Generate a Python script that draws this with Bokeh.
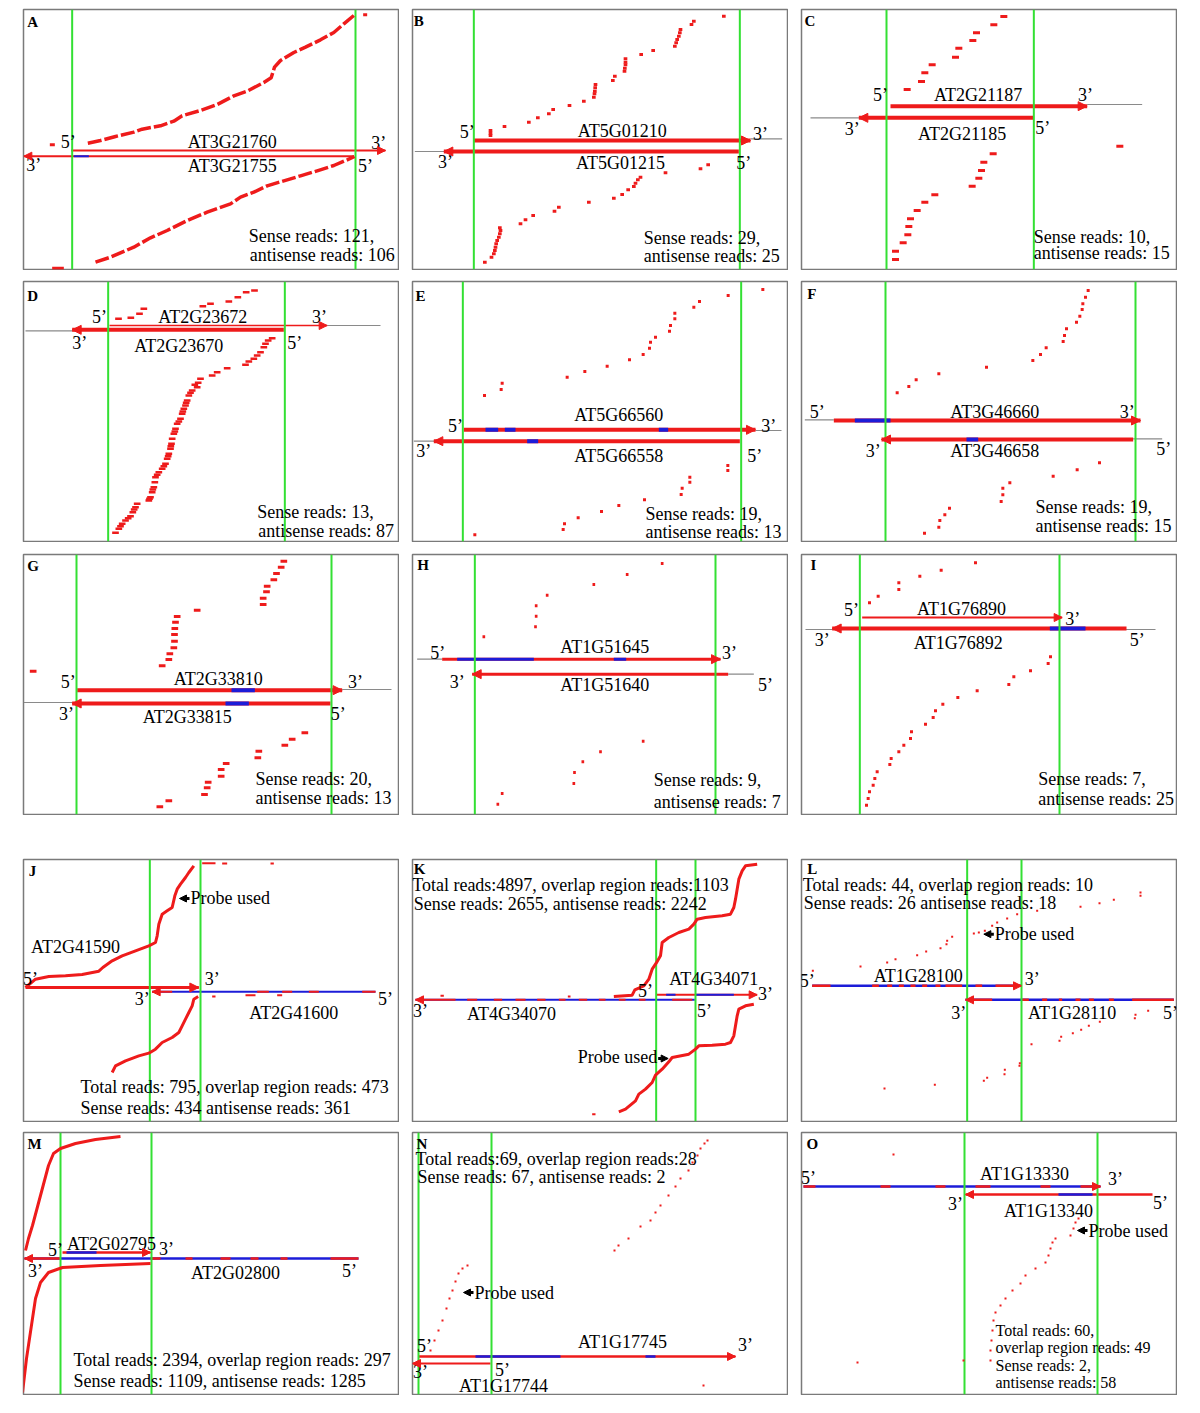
from bokeh.plotting import figure
from bokeh.models import Range1d, ColumnDataSource, Arrow, NormalHead, Spacer
from bokeh.layouts import row, column
from bokeh.embed import file_html
from bokeh.resources import INLINE
from bokeh.core.properties import value

RED = "#ee1b1b"
BLUE = "#1c1cd8"
GREEN = "#33e033"
GRAY = "#8a8a8a"
FONT = "Liberation Serif"

COL_LEFT = [22, 411, 800]
ROW_TOP = [8, 280, 553, 858, 1131]
ROW_H = [262, 262, 262, 264, 264]
PW = 377

# ---------------- Panel A ----------------
A_green = [215, 1065]
A_genes = [(212, 1155, 450, 2), (1060, 70, 467, 2)]
A_gray = []
A_over = [(220, 265, 467, BLUE)]
A_labels = [("5’", 203, 425), ("AT3G21760", 695, 425), ("3’", 1135, 428),
            ("3’", 100, 492), ("AT3G21755", 695, 495), ("5’", 1095, 497)]
A_sense_curve = [(262, 428), (300, 420), (345, 408), (400, 395), (425, 386), (480, 376), (520, 362),
                 (545, 346), (600, 330), (650, 312), (700, 286), (740, 272), (790, 246), (812, 232),
                 (822, 200), (840, 180), (880, 156), (915, 140), (960, 118), (1000, 96), (1030, 70),
                 (1060, 45)]
A_anti_curve = [(285, 785), (330, 770), (400, 740), (450, 712), (500, 690), (560, 660), (620, 635),
                (690, 610), (720, 590), (760, 575), (800, 556), (850, 541), (900, 526), (950, 511),
                (1000, 495), (1040, 478), (1062, 468)]
A_reads = [(148, 163, 433), (1088, 1100, 43), (155, 190, 803)]
A_info = [("Sense reads: 121,", 745, 707), ("antisense reads: 106", 748, 762)]

# ---------------- Panel B ----------------
B_green = [205, 1003]
B_genes = [(205, 1035, 420, 4), (1000, 115, 453, 4)]
B_gray = [(1035, 1130, 415), (28, 120, 453)]
B_over = []
B_labels = [("5’", 185, 395), ("AT5G01210", 650, 392), ("3’", 1065, 400),
            ("3’", 120, 485), ("AT5G01215", 645, 488), ("5’", 1015, 488)]
B_sense = [(255, 390), (255, 398), (255, 405), (297, 378), (370, 365), (397, 352), (430, 340),
           (443, 327), (492, 315), (535, 302), (565, 290), (567, 280), (568, 272), (569, 262),
           (570, 252), (622, 240), (628, 227), (657, 212), (658, 203), (660, 193), (660, 185),
           (660, 175), (707, 162), (743, 150), (808, 137), (812, 127), (815, 117), (820, 107),
           (823, 97), (825, 87), (858, 72), (865, 62), (955, 47)]
B_anti = [(238, 785), (258, 770), (265, 760), (268, 750), (270, 740), (272, 730), (275, 720),
          (280, 710), (283, 700), (285, 690), (283, 682), (345, 670), (360, 658), (383, 645),
          (447, 632), (460, 620), (550, 605), (625, 593), (650, 582), (668, 568), (685, 558),
          (690, 548), (697, 538), (705, 530), (780, 517), (885, 505), (908, 493)]
B_info = [("Sense reads: 29,", 715, 713), ("antisense reads: 25", 715, 765)]

# ---------------- Panel C ----------------
C_green = [273, 715]
C_genes = [(285, 875, 317, 4), (715, 190, 352, 4)]
C_gray = [(875, 1040, 312), (45, 190, 352)]
C_over = []
C_labels = [("5’", 255, 283), ("AT2G21187", 548, 283), ("3’", 870, 283),
            ("3’", 170, 385), ("AT2G21185", 500, 400), ("5’", 742, 382)]
C_sense = [(335, 267), (378, 243), (388, 217), (410, 193), (480, 170), (490, 143), (532, 120),
           (543, 97), (595, 73), (625, 48)]
C_anti = [(300, 777), (300, 752), (323, 727), (337, 703), (340, 678), (345, 655), (365, 630),
          (388, 605), (418, 583), (530, 557), (550, 533), (558, 510), (565, 485), (593, 460),
          (973, 437)]
C_info = [("Sense reads: 10,", 715, 708), ("antisense reads: 15", 715, 758)]

# ---------------- Panel D ----------------
D_green = [278, 808]
D_genes = [(282, 935, 150, 1.5), (805, 170, 163, 4)]
D_gray = [(935, 1095, 150), (30, 175, 166)]
D_over = []
D_labels = [("5’", 252, 125), ("AT2G23672", 562, 125), ("3’", 912, 125),
            ("3’", 193, 203), ("AT2G23670", 490, 210), ("5’", 838, 203)]
D_sense = [(309, 130), (346, 127), (372, 115), (385, 100), (562, 92), (585, 85), (640, 78),
           (667, 65), (692, 50), (717, 45)]
D_anti = [(770, 188), (758, 195), (750, 205), (745, 215), (735, 230), (725, 240), (715, 250),
          (700, 258), (690, 268), (635, 278), (605, 290), (590, 300), (555, 310), (548, 322),
          (545, 335), (530, 345), (520, 360), (515, 375), (510, 390), (505, 400), (500, 415),
          (495, 430), (485, 445), (480, 460), (475, 475), (470, 490), (468, 505), (465, 520),
          (460, 535), (455, 550), (450, 565), (440, 580), (430, 590), (420, 605), (418, 620),
          (415, 635), (410, 650), (405, 665), (400, 675), (365, 685), (360, 695), (352, 710),
          (345, 722), (330, 735), (320, 745), (310, 760), (300, 772),
          (538, 328), (525, 352), (512, 382), (502, 408), (490, 438), (478, 468), (466, 512),
          (458, 542), (445, 572), (425, 598), (412, 642), (402, 670), (356, 702), (338, 728),
          (315, 752)]
D_info = [("Sense reads: 13,", 725, 708), ("antisense reads: 87", 728, 765)]

# ---------------- Panel E ----------------
E_green = [172, 1007]
E_genes = [(175, 1050, 463, 4), (1003, 85, 497, 4)]
E_gray = [(1050, 1128, 465), (25, 90, 497)]
E_over = [(240, 278, 463, BLUE), (298, 330, 463, BLUE), (760, 788, 463, BLUE), (365, 398, 497, BLUE)]
E_labels = [("5’", 150, 450), ("AT5G66560", 640, 418), ("3’", 1090, 450),
            ("3’", 55, 525), ("AT5G66558", 640, 540), ("5’", 1048, 540)]
E_sense = [(237, 360), (287, 342), (290, 323), (485, 305), (538, 288), (605, 272), (672, 253),
           (713, 237), (732, 218), (735, 200), (750, 185), (792, 167), (795, 150), (808, 130),
           (808, 113), (865, 95), (882, 78), (968, 60), (1072, 42)]
E_anti = [(208, 778), (473, 762), (477, 745), (518, 727), (588, 708), (640, 690), (717, 673),
          (827, 657), (830, 638), (853, 620), (853, 605), (967, 585), (967, 570)]
E_info = [("Sense reads: 19,", 720, 715), ("antisense reads: 13", 720, 770)]

# ---------------- Panel F ----------------
F_green = [270, 1020]
F_genes = [(115, 1035, 435, 4), (1013, 258, 492, 4)]
F_gray = [(28, 115, 433), (1013, 1100, 490)]
F_over = [(178, 285, 435, BLUE), (513, 548, 492, BLUE)]
F_labels = [("5’", 65, 410), ("AT3G46660", 598, 410), ("3’", 995, 410),
            ("3’", 233, 525), ("AT3G46658", 598, 525), ("5’", 1105, 520)]
F_sense = [(305, 352), (340, 333), (362, 313), (430, 295), (573, 275), (712, 255), (735, 237),
           (752, 217), (803, 198), (807, 180), (813, 160), (843, 140), (853, 122), (860, 102),
           (862, 85), (870, 65), (878, 45)]
F_anti = [(387, 773), (430, 755), (433, 735), (448, 718), (462, 698), (617, 678), (622, 658),
          (622, 638), (643, 622), (773, 602), (845, 583), (912, 562)]
F_info = [("Sense reads: 19,", 720, 695), ("antisense reads: 15", 720, 752)]

# ---------------- Panel G ----------------
G_green = [183, 948]
G_genes = [(185, 980, 425, 4), (945, 170, 465, 4)]
G_gray = [(980, 1128, 423), (25, 175, 462)]
G_over = [(648, 718, 425, BLUE), (630, 700, 465, BLUE)]
G_labels = [("5’", 158, 400), ("AT2G33810", 608, 390), ("3’", 1020, 400),
            ("3’", 153, 495), ("AT2G33815", 515, 505), ("5’", 968, 495)]
G_sense = [(53, 368), (440, 352), (460, 333), (463, 316), (475, 298), (477, 278), (477, 258),
           (478, 240), (480, 221), (485, 204), (545, 185), (743, 168), (743, 149), (753, 130),
           (755, 113), (775, 94), (783, 75), (797, 56), (805, 38)]
G_anti = [(433, 775), (460, 757), (567, 738), (575, 718), (578, 701), (617, 683), (617, 663),
          (632, 645), (727, 628), (730, 608), (808, 590), (830, 572), (868, 553)]
G_info = [("Sense reads: 20,", 720, 692), ("antisense reads: 13", 720, 748)]

# ---------------- Panel H ----------------
H_green = [208, 930]
H_genes = [(110, 945, 332, 3), (968, 200, 377, 3)]
H_gray = [(35, 110, 332), (968, 1045, 377)]
H_over = [(155, 385, 332, BLUE), (625, 662, 332, BLUE)]
H_labels = [("5’", 97, 312), ("AT1G51645", 598, 295), ("3’", 972, 312),
            ("3’", 155, 400), ("AT1G51640", 598, 408), ("5’", 1080, 410)]
H_sense = [(235, 265), (390, 235), (392, 203), (392, 172), (425, 140), (565, 108), (665, 78),
           (770, 45)]
H_anti = [(277, 767), (290, 735), (505, 705), (507, 672), (532, 640), (585, 610), (713, 578)]
H_info = [("Sense reads: 9,", 745, 695), ("antisense reads: 7", 745, 760)]

# ---------------- Panel I ----------------
I_green = [193, 792]
I_genes = [(200, 800, 207, 2), (993, 110, 240, 4)]
I_gray = [(30, 1080, 243)]
I_over = [(763, 870, 240, BLUE)]
I_labels = [("5’", 168, 185), ("AT1G76890", 498, 180), ("3’", 832, 210),
            ("3’", 80, 275), ("AT1G76892", 488, 283), ("5’", 1025, 275)]
I_sense = [(222, 163), (248, 143), (310, 123), (310, 103), (373, 83), (437, 65), (540, 43)]
I_anti = [(213, 770), (218, 750), (222, 730), (233, 710), (238, 690), (245, 670), (283, 648),
          (287, 630), (310, 610), (325, 590), (345, 570), (348, 550), (390, 527), (413, 507),
          (420, 487), (442, 467), (487, 447), (545, 427), (640, 408), (655, 385), (705, 367),
          (758, 345), (765, 325)]
I_info = [("Sense reads: 7,", 728, 690), ("antisense reads: 25", 728, 750)]

# ---------------- Panel J ----------------
J_green = [403, 555]
J_genes = [(30, 550, 405, 3, RED), (1080, 410, 418, 2, BLUE)]
J_gray = []
J_over = [(410, 470, 418, RED), (725, 760, 418, RED), (800, 830, 418, RED), (880, 910, 418, RED),
          (1040, 1080, 418, RED)]
J_labels = [("5’", 45, 380), ("3’", 590, 380), ("3’", 380, 440), ("5’", 1110, 440),
            ("AT2G41600", 835, 482), ("AT2G41590", 180, 283)]
J_sense_curve = [(30, 405), (60, 380), (100, 372), (150, 370), (200, 366), (250, 356), (262, 345),
                 (290, 325), (320, 310), (360, 295), (400, 280), (420, 270), (425, 250), (430, 215),
                 (440, 185), (455, 175), (470, 165), (478, 130), (485, 110), (495, 95), (510, 75),
                 (520, 60), (535, 40)]
J_anti_curve = [(290, 660), (300, 640), (330, 625), (370, 610), (400, 602), (420, 590), (440, 570),
                (470, 555), (490, 540), (500, 520), (510, 500), (520, 480), (530, 460), (535, 440),
                (548, 432)]
J_extra = [(560, 600, 32), (620, 635, 33), (765, 775, 33), (590, 600, 432), (690, 720, 428),
           (785, 800, 428)]
J_info = [("Total reads: 795, overlap region reads: 473", 195, 702),
          ("Sense reads: 434 antisense reads: 361", 195, 765)]
J_probe = [(522, 492, 138, "Probe used", 525, 135, "left")]

# ---------------- Panel K ----------------
K_green = [752, 870]
K_genes = [(868, 30, 442, 2, BLUE), (752, 1055, 427, 2, RED)]
K_gray = []
K_over = [(30, 150, 442, RED), (185, 215, 442, RED), (265, 290, 442, RED), (330, 360, 442, RED),
          (395, 420, 442, RED), (460, 480, 442, RED), (520, 545, 442, RED), (580, 600, 442, RED),
          (640, 660, 442, RED), (700, 720, 442, RED), (800, 860, 442, RED),
          (782, 810, 427, BLUE), (870, 985, 427, BLUE)]
K_labels = [("3’", 45, 475), ("AT4G34070", 318, 485), ("5’", 897, 475),
            ("5’", 720, 415), ("AT4G34071", 925, 380), ("3’", 1080, 425)]
K_sense_curve = [(625, 432), (680, 428), (688, 412), (715, 400), (730, 380), (740, 350), (752, 332),
                 (765, 310), (770, 270), (790, 255), (820, 240), (850, 230), (865, 215), (875, 200),
                 (900, 195), (950, 190), (975, 185), (985, 165), (990, 140), (995, 110), (1000, 80),
                 (1010, 55), (1020, 40), (1055, 35)]
K_anti_curve = [(640, 778), (660, 770), (690, 745), (700, 725), (720, 710), (740, 690), (750, 668),
                (770, 650), (790, 628), (800, 615), (850, 605), (870, 590), (880, 580), (920, 578),
                (960, 575), (975, 570), (985, 550), (990, 520), (995, 490), (1000, 470), (1020, 460),
                (1045, 455)]
K_extra = [(105, 115, 430), (487, 495, 432), (560, 570, 785)]
K_info = [("Total reads:4897, overlap region reads:1103", 20, 98),
          ("Sense reads: 2655, antisense reads: 2242", 25, 153)]
K_probe = [(758, 788, 618, "Probe used", 755, 612, "right")]

# ---------------- Panel L ----------------
L_green = [515, 678]
L_genes = [(50, 678, 400, 2.5, BLUE), (1135, 510, 442, 2.5, BLUE)]
L_gray = []
L_over = [(50, 105, 400, RED), (230, 250, 400, RED), (275, 290, 400, RED), (310, 325, 400, RED),
          (345, 360, 400, RED), (380, 395, 400, RED), (420, 435, 400, RED), (450, 500, 400, RED),
          (540, 560, 400, RED), (600, 678, 400, RED),
          (510, 590, 442, RED), (680, 700, 442, RED), (740, 755, 442, RED), (790, 800, 442, RED),
          (840, 855, 442, RED), (880, 895, 442, RED), (940, 955, 442, RED), (1010, 1135, 442, RED)]
L_labels = [("5’", 35, 385), ("AT1G28100", 368, 370), ("3’", 710, 378),
            ("3’", 490, 480), ("AT1G28110", 830, 480), ("5’", 1125, 480)]
L_sense = [(52, 355), (195, 342), (275, 330), (300, 320), (365, 308), (392, 297), (435, 287),
           (453, 275), (455, 265), (470, 253), (535, 243), (550, 240), (568, 235), (590, 220),
           (605, 210), (635, 198), (665, 185), (725, 175), (855, 163), (912, 152), (955, 142),
           (1035, 130), (1035, 120)]
L_anti = [(267, 708), (418, 697), (565, 685), (575, 676), (627, 665), (628, 652), (672, 640),
          (673, 632), (708, 575), (792, 565), (797, 553), (832, 542), (857, 532), (880, 520),
          (913, 508), (1018, 497), (1020, 487), (1058, 475)]
L_info = [("Total reads: 44, overlap region reads: 10", 22, 98),
          ("Sense reads: 26 antisense reads: 18", 25, 150)]
L_probe = [(595, 565, 245, "Probe used", 598, 243, "left")]

# ---------------- Panel M (page units) ----------------
M_green = [60, 151]
M_genes = [(62, 150, 1252, 2.5, RED), (358, 24, 1258, 2.5, BLUE)]
M_gray = []
M_over = [(66, 96, 1252, BLUE), (24, 60, 1258, RED), (150, 160, 1258, RED), (185, 192, 1258, RED),
          (220, 230, 1258, RED), (250, 258, 1258, RED), (280, 287, 1258, RED), (330, 358, 1258, RED)]
M_labels = [("5’", 55, 1249), ("AT2G02795", 111, 1243), ("3’", 166, 1248),
            ("3’", 35, 1270), ("AT2G02800", 235, 1272), ("5’", 349, 1270)]
M_sense_curve = [(25, 1250), (28, 1238), (32, 1225), (36, 1210), (40, 1195), (44, 1180), (48, 1165),
                 (53, 1153), (60, 1148), (75, 1143), (95, 1139), (120, 1136)]
M_anti_curve = [(150, 1263), (100, 1265), (62, 1267), (48, 1272), (40, 1282), (35, 1298), (32, 1318),
                (29, 1338), (26, 1358), (24, 1375), (22, 1392)]
M_info = [("Total reads: 2394, overlap region reads: 297", 73, 1359),
          ("Sense reads: 1109, antisense reads: 1285", 73, 1380)]

# ---------------- Panel N (page units) ----------------
N_green = [418, 491]
N_genes = [(418, 735, 1356, 2.5, RED), (490, 412, 1363, 2, RED)]
N_gray = []
N_over = [(475, 560, 1356, BLUE), (645, 655, 1356, BLUE)]
N_labels = [("5’", 424, 1345), ("AT1G17745", 622, 1341), ("3’", 745, 1344),
            ("3’", 420, 1371), ("5’", 502, 1369), ("AT1G17744", 503, 1385)]
N_sense = [(430, 1350), (434, 1340), (438, 1330), (442, 1320), (446, 1308), (449, 1298), (452, 1290),
           (455, 1281), (458, 1273), (462, 1268), (467, 1265), (614, 1250), (618, 1245), (628, 1238),
           (640, 1226), (650, 1220), (655, 1212), (660, 1205), (668, 1195), (675, 1186), (680, 1178),
           (688, 1170), (692, 1162), (697, 1155), (700, 1148), (704, 1143), (707, 1140)]
N_anti = [(703, 1385)]
N_info = [("Total reads:69, overlap region reads:28", 415, 1158),
          ("Sense reads: 67, antisense reads: 2", 417, 1176)]
N_probe = [(473, 463, 1292, "Probe used", 474, 1292, "left")]

# ---------------- Panel O (page units) ----------------
O_green = [964, 1097]
O_genes = [(803, 1100, 1186, 2.5, BLUE), (1152, 965, 1194, 2.5, RED)]
O_gray = []
O_over = [(803, 815, 1186, RED), (880, 890, 1186, RED), (935, 945, 1186, RED), (975, 990, 1186, RED),
          (1040, 1050, 1186, RED), (1080, 1100, 1186, RED), (1058, 1092, 1194, BLUE)]
O_labels = [("5’", 808, 1177), ("AT1G13330", 1024, 1173), ("3’", 1115, 1178),
            ("3’", 955, 1203), ("AT1G13340", 1048, 1210), ("5’", 1160, 1202)]
O_sense = [(893, 1154)]
O_anti = [(990, 1360), (990, 1350), (991, 1340), (992, 1330), (993, 1320), (995, 1312), (1000, 1305),
          (1005, 1298), (1012, 1290), (1020, 1283), (1025, 1275), (1035, 1268), (1045, 1262),
          (1048, 1255), (1050, 1248), (1052, 1242), (1055, 1238), (1070, 1235), (1073, 1228),
          (1075, 1222), (1078, 1218), (857, 1362), (963, 1360)]
O_info = [("Total reads: 60,", 995, 1330), ("overlap region reads: 49", 995, 1347),
          ("Sense reads: 2,", 995, 1365), ("antisense reads: 58", 995, 1382)]
O_probe = [(1087, 1077, 1230, "Probe used", 1088, 1230, "left")]

LETTER_POS = {"A": (80, 63), "B": (25, 62), "C": (27, 62), "D": (35, 62), "E": (30, 60), "F": (35, 55),
              "G": (35, 52), "H": (35, 50), "I": (45, 50), "J": (40, 55), "K": (25, 50), "L": (35, 50),
              "M": (27, 1143), "N": (416, 1143), "O": (806, 1143)}


def seg_src(items, default_len):
    x0, x1, y = [], [], []
    for it in items:
        if len(it) == 3:
            x0.append(it[0]); x1.append(it[1]); y.append(it[2])
        else:
            x0.append(it[0] - default_len / 2); x1.append(it[0] + default_len / 2); y.append(it[1])
    return ColumnDataSource(dict(x0=x0, x1=x1, y=y))


def make_panel(letter, col, ri, crop, s, green, genes, grays, over, labels, reads, read_len, read_w,
               curves, info, info_size="18px", probes=(), curve_w=3, curve_dash="solid"):
    L = COL_LEFT[col]; T = ROW_TOP[ri]; H = ROW_H[ri]
    cx, cy = crop
    fx0, fx1 = (L + 1 - cx) * s, (L + PW - 1 - cx) * s
    fy0, fy1 = (T + 1 - cy) * s, (T + H - 1 - cy) * s
    p = figure(width=PW, height=H, x_range=Range1d(fx0, fx1), y_range=Range1d(fy1, fy0),
               toolbar_location=None, output_backend="svg", min_border=1,
               x_axis_location=None, y_axis_location=None,
               outline_line_color="#7a7a7a", outline_line_width=1.5, background_fill_color="white",
               border_fill_color="white")
    p.grid.visible = False
    if grays:
        p.segment(x0=[g[0] for g in grays], x1=[g[1] for g in grays], y0=[g[2] for g in grays],
                  y1=[g[2] for g in grays], line_color=GRAY, line_width=1.2)
    for g in genes:
        x5, x3, y, w = g[0], g[1], g[2], g[3]
        c = g[4] if len(g) > 4 else RED
        p.segment(x0=[x5], x1=[x3], y0=[y], y1=[y], line_color=c, line_width=w)
    for o in over:
        w = 2
        for g in genes:
            if g[2] == o[2]:
                w = g[3]
        p.segment(x0=[o[0]], x1=[o[1]], y0=[o[2]], y1=[o[2]], line_color=o[3], line_width=w)
    for g in genes:
        x5, x3, y, w = g[0], g[1], g[2], g[3]
        d = 1 if x3 > x5 else -1
        hs = 9 if w >= 3 else 8
        p.add_layout(Arrow(end=NormalHead(size=hs, fill_color=RED, line_color=RED, line_width=1),
                           x_start=x3 - d * 1.0 * s, x_end=x3, y_start=y, y_end=y,
                           line_alpha=0, line_width=0.1))
    p.segment(x0=green, x1=green, y0=[fy0] * len(green), y1=[fy1] * len(green),
              line_color=GREEN, line_width=2)
    for rs in reads:
        if rs:
            p.segment(x0="x0", x1="x1", y0="y", y1="y", source=seg_src(rs, read_len),
                      line_color=RED, line_width=read_w, line_cap="butt")
    for cv in curves:
        p.line(x=[c[0] for c in cv], y=[c[1] for c in cv], line_color=RED, line_width=curve_w,
               line_join="round", line_dash=curve_dash)
    p.text(x=[l[1] for l in labels], y=[l[2] for l in labels], text=[l[0] for l in labels],
           text_font=value(FONT), text_font_size=value("18px"), text_align="center",
           text_baseline="middle", text_color="black")
    p.text(x=[t[1] for t in info], y=[t[2] for t in info], text=[t[0] for t in info],
           text_font=value(FONT), text_font_size=value(info_size), text_align="left",
           text_baseline="middle", text_color="black")
    for pr in probes:
        xs, xe, y, txt, tx, ty, al = pr
        p.add_layout(Arrow(end=NormalHead(size=7, fill_color="black", line_color="black"),
                           x_start=xs, x_end=xe, y_start=y, y_end=y, line_color="black",
                           line_width=3))
        p.text(x=[tx], y=[ty], text=[txt], text_font=value(FONT), text_font_size=value("18px"),
               text_align=al, text_baseline="middle", text_color="black")
    lx, ly = LETTER_POS[letter]
    p.text(x=[lx], y=[ly], text=[letter], text_font=value(FONT), text_font_size=value("15px"),
           text_font_style="bold", text_align="left", text_baseline="middle", text_color="black")
    return p


pA = make_panel("A", 0, 0, (0, 0), 3, A_green, A_genes, A_gray, A_over, A_labels, [A_reads], 10, 3,
                [A_sense_curve, A_anti_curve], A_info, curve_w=3.5, curve_dash="14 3")
pB = make_panel("B", 1, 0, (405, 0), 3, B_green, B_genes, B_gray, B_over, B_labels, [B_sense, B_anti], 11, 3, [], B_info)
pC = make_panel("C", 2, 0, (795, 0), 3, C_green, C_genes, C_gray, C_over, C_labels, [C_sense, C_anti], 21, 3, [], C_info)
pD = make_panel("D", 0, 1, (15, 275), 3, D_green, D_genes, D_gray, D_over, D_labels, [D_sense, D_anti], 20, 2.5, [], D_info)
pE = make_panel("E", 1, 1, (405, 275), 3, E_green, E_genes, E_gray, E_over, E_labels, [E_sense, E_anti], 9, 3, [], E_info)
pF = make_panel("F", 2, 1, (795, 275), 3, F_green, F_genes, F_gray, F_over, F_labels, [F_sense, F_anti], 9, 3, [], F_info)
pG = make_panel("G", 0, 2, (15, 548), 3, G_green, G_genes, G_gray, G_over, G_labels, [G_sense, G_anti], 20, 3, [], G_info)
pH = make_panel("H", 1, 2, (405, 548), 3, H_green, H_genes, H_gray, H_over, H_labels, [H_sense, H_anti], 8, 3, [], H_info)
pI = make_panel("I", 2, 2, (795, 548), 3, I_green, I_genes, I_gray, I_over, I_labels, [I_sense, I_anti], 9, 3, [], I_info)
pJ = make_panel("J", 0, 3, (15, 852), 3, J_green, J_genes, J_gray, J_over, J_labels, [J_extra], 6, 2,
                [J_sense_curve, J_anti_curve], J_info, probes=J_probe)
pK = make_panel("K", 1, 3, (405, 852), 3, K_green, K_genes, K_gray, K_over, K_labels, [K_extra], 6, 2,
                [K_sense_curve, K_anti_curve], K_info, probes=K_probe)
pL = make_panel("L", 2, 3, (795, 852), 3, L_green, L_genes, L_gray, L_over, L_labels, [L_sense, L_anti], 6, 2,
                [], L_info, probes=L_probe)
pM = make_panel("M", 0, 4, (0, 0), 1, M_green, M_genes, M_gray, M_over, M_labels, [], 2, 2,
                [M_sense_curve, M_anti_curve], M_info)
pN = make_panel("N", 1, 4, (0, 0), 1, N_green, N_genes, N_gray, N_over, N_labels, [N_sense, N_anti], 2, 2,
                [], N_info, probes=N_probe)
pO = make_panel("O", 2, 4, (0, 0), 1, O_green, O_genes, O_gray, O_over, O_labels, [O_sense, O_anti], 2, 2,
                [], O_info, info_size="16px", probes=O_probe)


def prow(a, b, c):
    return row(Spacer(width=22), a, Spacer(width=12), b, Spacer(width=12), c)


layout = column(
    Spacer(height=8),
    prow(pA, pB, pC), Spacer(height=10),
    prow(pD, pE, pF), Spacer(height=11),
    prow(pG, pH, pI), Spacer(height=43),
    prow(pJ, pK, pL), Spacer(height=9),
    prow(pM, pN, pO),
)

open("out.html", "w").write(file_html(layout, INLINE))
